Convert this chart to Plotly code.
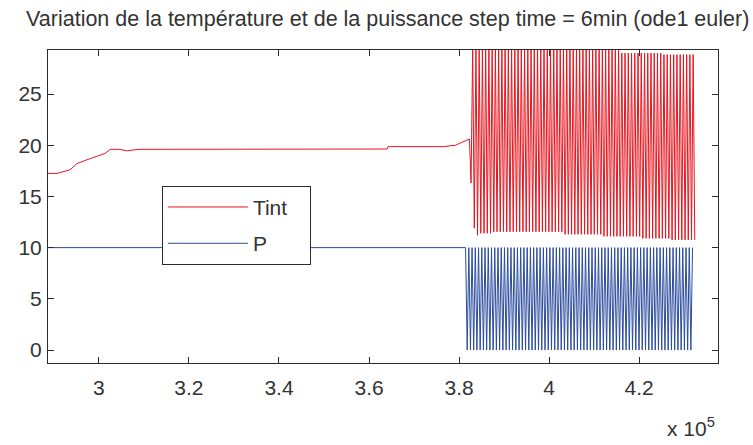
import plotly.graph_objects as go

# ---------------- data (time in seconds) ----------------
# Tint before the oscillating regime
tint_pre_t = [288700, 290700, 293600, 295100, 298100, 301400, 302500, 304700, 306200,
              308700, 364000, 364200, 376500, 379200, 380700, 382300]
tint_pre_v = [17.25, 17.25, 17.6, 18.2, 18.7, 19.2, 19.6, 19.6, 19.45,
              19.6, 19.63, 19.86, 19.86, 20.0, 20.3, 20.6]

# Tint oscillating regime: one sample each step (6 min = 360 s)
tint_osc_start = 382660
step_s = 360
tint_troughs = ([16.3, 11.9, 11.2] + [11.4] * 4 + [11.55] * 22 + [11.3] * 12 +
                [11.1] * 12 + [10.9] * 9 + [10.75] * 8)
tint_peaks = [29.6] * 46 + [29.0] * 13 + [28.85] * 10

# P (power)
p_pre_t = [288700, 381440]
p_pre_v = [10, 10]
p_osc_start = 381800
p_off = [0] * 70
p_on = [10] * 70

# ticks
x_tickvals = [300000, 320000, 340000, 360000, 380000, 400000, 420000]
x_ticktext = ["3", "3.2", "3.4", "3.6", "3.8", "4", "4.2"]
y_tickvals = [0, 5, 10, 15, 20, 25]

# ---------------- build series ----------------
tint_osc = []
for i in range(len(tint_troughs)):
    tint_osc.append(tint_troughs[i])
    if i < len(tint_peaks):
        tint_osc.append(tint_peaks[i])
tint_osc_t = [tint_osc_start + step_s * k for k in range(len(tint_osc))]

p_osc = []
for a, b in zip(p_off, p_on):
    p_osc += [a, b]
p_osc_t = [p_osc_start + step_s * k for k in range(len(p_osc))]

tint_t = tint_pre_t + tint_osc_t
tint_v = tint_pre_v + tint_osc
p_t = p_pre_t + p_osc_t
p_v = p_pre_v + p_osc

RED = "#E8141E"
BLUE = "#2B4B9E"
AX = "#2b2b2b"
FONT = "Liberation Sans, Arial, sans-serif"
PAD = "\u00a0\u00a0\u00a0"

fig = go.Figure()
fig.add_trace(go.Scatter(x=tint_t, y=tint_v, mode="lines", name="Tint" + PAD,
                         legendgroup="a", line=dict(color=RED, width=1)))
fig.add_trace(go.Scatter(x=p_t, y=p_v, mode="lines", name="P",
                         legendgroup="b", line=dict(color=BLUE, width=1)))

axis_common = dict(showline=True, linecolor=AX, linewidth=1, mirror="ticks",
                   ticks="inside", ticklen=6, tickcolor=AX, showgrid=False,
                   zeroline=False, automargin=False,
                   tickfont=dict(family=FONT, size=21, color="#333"))

fig.update_layout(
    width=753, height=445,
    margin=dict(l=48, r=35, t=50, b=82, autoexpand=False),
    paper_bgcolor="white", plot_bgcolor="white",
    font=dict(family=FONT, size=21, color="#333"),
    title=dict(text="Variation de la température et de la puissance step time = 6min (ode1 euler)",
               x=0.507, xref="paper", xanchor="center",
               y=0.958, yref="container", yanchor="middle",
               font=dict(family=FONT, size=21.5, color="#333")),
    xaxis=dict(range=[288700, 437500], tickvals=x_tickvals, ticktext=x_ticktext,
               ticklabelstandoff=6, **axis_common),
    yaxis=dict(range=[-1.27, 29.3], tickvals=y_tickvals, ticklabelstandoff=1,
               **axis_common),
    legend=dict(x=0.170, y=0.566, xanchor="left", yanchor="top",
                bgcolor="white", bordercolor=AX, borderwidth=1,
                font=dict(family=FONT, size=21, color="#333"),
                itemwidth=80, tracegroupgap=6),
    showlegend=True,
)

fig.add_annotation(text="x 10<sup>5</sup>", xref="paper", yref="paper",
                   x=0.998, y=-0.205, xanchor="right", yanchor="middle",
                   showarrow=False, font=dict(family=FONT, size=21, color="#333"))

fig.write_html("out.html", config={"displayModeBar": False},
               post_script="document.body.style.margin='0';")
